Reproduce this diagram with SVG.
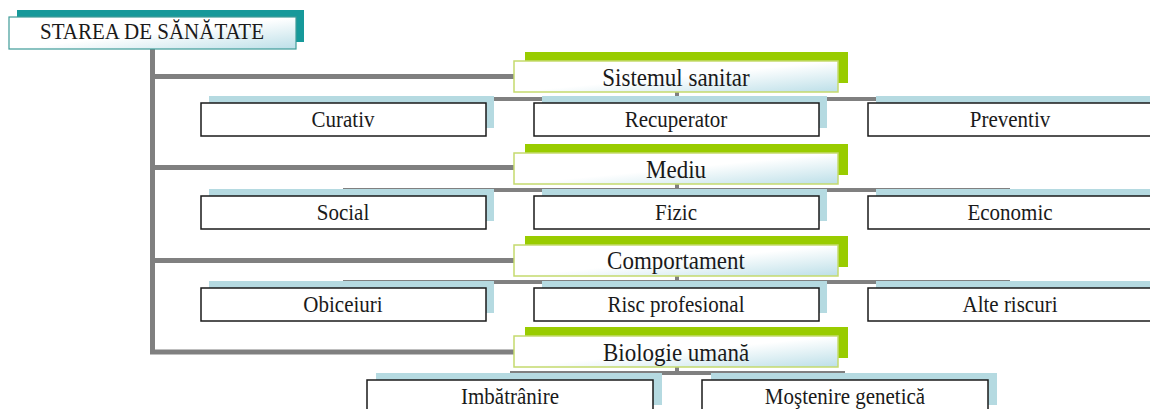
<svg xmlns="http://www.w3.org/2000/svg" width="1150" height="409" viewBox="0 0 1150 409">
<defs>
<linearGradient id="g" x1="0" y1="0" x2="1" y2="1">
<stop offset="0" stop-color="#ffffff"/>
<stop offset="0.5" stop-color="#ffffff"/>
<stop offset="1" stop-color="#bcdfe8"/>
</linearGradient>
</defs>
<style>
text{font-family:'Liberation Serif','Times New Roman',Tinos,'DejaVu Serif',serif;fill:#1a1a1a;text-anchor:middle}
.t0{font-size:21px}
.t1{font-size:23px}
.t2{font-size:21px}
.trunk{fill:none;stroke:#808080;stroke-width:5}
.bar{fill:none;stroke:#808080;stroke-width:4}
.rs{fill:#16999a}
.rb{fill:url(#g);stroke:#3f9c98;stroke-width:1.2}
.s1{fill:#99cc00}
.b1{fill:url(#g);stroke:#c5da6e;stroke-width:1.5}
.s2{fill:#b5dae1}
.b2{fill:#ffffff;stroke:#1a1a1a;stroke-width:1.5}
</style>
<rect width="1150" height="409" fill="#ffffff"/>
<g id="connectors">
<path class="trunk" d="M152.5,49 V354.5 M150,352 H515 M150,76.5 H515 M150,167.5 H515 M150,260.5 H515"/>
<path class="bar" d="M677,92 V99 M343,99 H1010 M677,184 V190 M343,190 H1010 M677,276 V282 M343,282 H1010 M677,367 V373 M510,373 H845"/>
</g>
<g font-family="Liberation Serif, Times New Roman, DejaVu Serif, serif">
<g id="root">
<rect class="rs" x="17" y="10" width="287" height="32"/>
<rect class="rb" x="9" y="17" width="287" height="32"/>
<text class="t0" transform="translate(152,39) scale(1,1.08)">STAREA DE SĂNĂTATE</text>
</g>
<g id="sistemul">
<rect class="s1" x="525" y="52" width="323" height="31"/>
<rect class="b1" x="514" y="61" width="324" height="31"/>
<text class="t1" transform="translate(676,86) scale(1,1.1)">Sistemul sanitar</text>
</g>
<g id="curativ">
<rect class="s2" x="209" y="96" width="285" height="32"/>
<rect class="b2" x="201" y="103" width="285" height="33"/>
<text class="t2" transform="translate(343,127) scale(1,1.1)">Curativ</text>
</g>
<g id="recuperator">
<rect class="s2" x="542" y="96" width="285" height="32"/>
<rect class="b2" x="534" y="103" width="285" height="33"/>
<text class="t2" transform="translate(676,127) scale(1,1.1)">Recuperator</text>
</g>
<g id="preventiv">
<rect class="s2" x="876" y="96" width="285" height="32"/>
<rect class="b2" x="868" y="103" width="285" height="33"/>
<text class="t2" transform="translate(1010,127) scale(1,1.1)">Preventiv</text>
</g>
<g id="mediu">
<rect class="s1" x="525" y="144" width="323" height="31"/>
<rect class="b1" x="514" y="153" width="324" height="31"/>
<text class="t1" transform="translate(676,178) scale(1,1.1)">Mediu</text>
</g>
<g id="social">
<rect class="s2" x="209" y="189" width="285" height="32"/>
<rect class="b2" x="201" y="196" width="285" height="33"/>
<text class="t2" transform="translate(343,220) scale(1,1.1)">Social</text>
</g>
<g id="fizic">
<rect class="s2" x="542" y="189" width="285" height="32"/>
<rect class="b2" x="534" y="196" width="285" height="33"/>
<text class="t2" transform="translate(676,220) scale(1,1.1)">Fizic</text>
</g>
<g id="economic">
<rect class="s2" x="876" y="189" width="285" height="32"/>
<rect class="b2" x="868" y="196" width="285" height="33"/>
<text class="t2" transform="translate(1010,220) scale(1,1.1)">Economic</text>
</g>
<g id="comportament">
<rect class="s1" x="525" y="236" width="323" height="31"/>
<rect class="b1" x="514" y="245" width="324" height="31"/>
<text class="t1" transform="translate(676,269) scale(1,1.1)">Comportament</text>
</g>
<g id="obiceiuri">
<rect class="s2" x="209" y="281" width="285" height="32"/>
<rect class="b2" x="201" y="288" width="285" height="33"/>
<text class="t2" transform="translate(343,312) scale(1,1.1)">Obiceiuri</text>
</g>
<g id="risc">
<rect class="s2" x="542" y="281" width="285" height="32"/>
<rect class="b2" x="534" y="288" width="285" height="33"/>
<text class="t2" transform="translate(676,312) scale(1,1.1)">Risc profesional</text>
</g>
<g id="alte">
<rect class="s2" x="876" y="281" width="285" height="32"/>
<rect class="b2" x="868" y="288" width="285" height="33"/>
<text class="t2" transform="translate(1010,312) scale(1,1.1)">Alte riscuri</text>
</g>
<g id="biologie">
<rect class="s1" x="525" y="327" width="323" height="31"/>
<rect class="b1" x="514" y="336" width="324" height="31"/>
<text class="t1" transform="translate(676,361) scale(1,1.1)">Biologie umană</text>
</g>
<g id="imbatranire">
<rect class="s2" x="376" y="373" width="286" height="32"/>
<rect class="b2" x="367" y="380" width="286" height="33"/>
<text class="t2" transform="translate(510,404) scale(1,1.1)">Imbătrânire</text>
</g>
<g id="mostenire">
<rect class="s2" x="711" y="373" width="286" height="32"/>
<rect class="b2" x="702" y="380" width="286" height="33"/>
<text class="t2" transform="translate(845,404) scale(1,1.1)">Moştenire genetică</text>
</g>
</g>
</svg>
